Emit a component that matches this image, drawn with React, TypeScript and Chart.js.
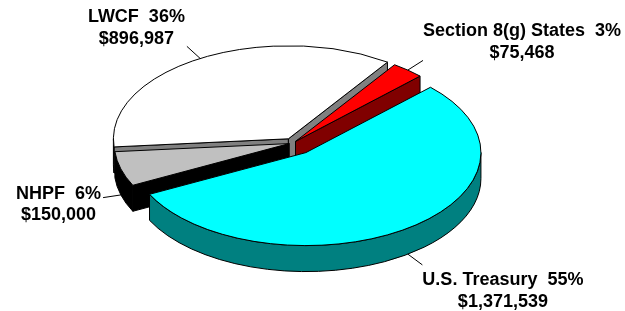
import React, { useEffect, useRef } from 'react';
import { Chart, registerables } from 'chart.js';

Chart.register(...registerables);

const categories = ['LWCF', 'Section 8(g) States', 'U.S. Treasury', 'NHPF'];
const amounts = [896987, 75468, 1371539, 150000];
const topColors = ['#FFFFFF', '#FF0000', '#00FFFF', '#C0C0C0'];
const sideColors = ['#808080', '#800000', '#008080', '#000000'];
const explodeOffsets = [7, 3, 17, 3];

const FONT = 'bold 18px "Liberation Sans", Arial, Helvetica, sans-serif';

const pie3d = {
  id: 'pie3d',
  beforeDatasetsDraw(chart: any, _args: any, opts: any) {
    const ctx: CanvasRenderingContext2D = chart.ctx;
    const meta = chart.getDatasetMeta(0);
    const arcs = meta.data;
    if (!arcs.length) return false;
    const { rx, ry, depth } = opts;
    const items = arcs.map((arc: any, i: number) => {
      const p = arc.getProps(['x', 'y', 'startAngle', 'endAngle', 'outerRadius'], true);
      const off = (arc.options.offset || 0) / p.outerRadius;
      const mid = (p.startAngle + p.endAngle) / 2;
      return {
        i,
        ax: p.x + rx * off * Math.cos(mid),
        ay: p.y + ry * off * Math.sin(mid),
        a0: p.startAngle,
        a1: p.endAngle,
        mid,
      };
    });
    chart.$pie3d = items;
    const sorted = [...items].sort((a: any, b: any) => Math.sin(a.mid) - Math.sin(b.mid));
    ctx.save();
    ctx.lineWidth = 1;
    ctx.strokeStyle = '#000';
    ctx.lineJoin = 'round';
    const pt = (it: any, a: number) => [it.ax + rx * Math.cos(a), it.ay + ry * Math.sin(a)];
    const face = (it: any, a: number, color: string) => {
      const [px, py] = pt(it, a);
      ctx.beginPath();
      ctx.moveTo(it.ax, it.ay);
      ctx.lineTo(px, py);
      ctx.lineTo(px, py + depth);
      ctx.lineTo(it.ax, it.ay + depth);
      ctx.closePath();
      ctx.fillStyle = color;
      ctx.fill();
      ctx.stroke();
    };
    const outer = (it: any, color: string) => {
      for (let k = -2; k <= 3; k++) {
        const lo = Math.max(it.a0, 2 * Math.PI * k);
        const hi = Math.min(it.a1, 2 * Math.PI * k + Math.PI);
        if (hi > lo) {
          ctx.beginPath();
          ctx.ellipse(it.ax, it.ay, rx, ry, 0, lo, hi, false);
          ctx.ellipse(it.ax, it.ay + depth, rx, ry, 0, hi, lo, true);
          ctx.closePath();
          ctx.fillStyle = color;
          ctx.fill();
          ctx.stroke();
        }
      }
    };
    for (const it of sorted) {
      const side = sideColors[it.i];
      if (Math.cos(it.a0) < 0) face(it, it.a0, side);
      if (Math.cos(it.a1) > 0) face(it, it.a1, side);
      outer(it, side);
      ctx.beginPath();
      ctx.moveTo(it.ax, it.ay);
      ctx.ellipse(it.ax, it.ay, rx, ry, 0, it.a0, it.a1, false);
      ctx.closePath();
      ctx.fillStyle = topColors[it.i];
      ctx.fill();
      ctx.stroke();
    }
    ctx.restore();
    return false;
  },
  afterDraw(chart: any, _args: any, opts: any) {
    const items = chart.$pie3d;
    if (!items) return;
    const ctx: CanvasRenderingContext2D = chart.ctx;
    const { rx, ry, depth } = opts;
    const data = chart.data.datasets[0].data as number[];
    const total = data.reduce((s, v) => s + v, 0);
    ctx.save();
    ctx.font = FONT;
    ctx.fillStyle = '#000';
    ctx.strokeStyle = '#000';
    ctx.lineWidth = 1;
    ctx.textAlign = 'center';
    ctx.textBaseline = 'middle';
    for (const it of items) {
      const vx = rx * Math.cos(it.mid);
      const vy = ry * Math.sin(it.mid);
      const len = Math.hypot(vx, vy);
      const dx = vx / len;
      const dy = vy / len;
      const sx = it.ax + vx;
      const sy = it.ay + vy + (Math.sin(it.mid) > 0 ? depth : 0);
      const ex = sx + dx * 18;
      const ey = sy + dy * 18;
      ctx.beginPath();
      ctx.moveTo(sx, sy);
      ctx.lineTo(ex, ey);
      ctx.stroke();
      const value = data[it.i];
      const pct = Math.round((value / total) * 100);
      const line1 = `${chart.data.labels[it.i]}  ${pct}%`;
      const line2 = '$' + value.toLocaleString('en-US');
      const w = Math.max(ctx.measureText(line1).width, ctx.measureText(line2).width);
      const cx = dx < 0 ? ex - 2 - w / 2 : ex + w / 2;
      let y1: number, y2: number;
      if (dy < -0.3) { y1 = ey - 29; y2 = ey - 7; }
      else if (dy > 0.3) { y1 = ey + 15; y2 = ey + 37; }
      else { y1 = ey - 4; y2 = ey + 17; }
      ctx.fillText(line1, cx, y1);
      ctx.fillText(line2, cx, y2);
    }
    ctx.restore();
  },
};

export default function App() {
  const ref = useRef<HTMLCanvasElement>(null);
  useEffect(() => {
    if (!ref.current) return;
    const chart = new Chart(ref.current, {
      type: 'pie',
      data: {
        labels: categories,
        datasets: [
          {
            data: amounts,
            backgroundColor: topColors,
            borderColor: '#000',
            borderWidth: 1,
            offset: explodeOffsets,
          },
        ],
      },
      options: {
        animation: false,
        responsive: true,
        maintainAspectRatio: false,
        devicePixelRatio: 1,
        rotation: 265,
        layout: { padding: { left: 0, right: 39, top: 0, bottom: 25 } },
        plugins: {
          legend: { display: false },
          tooltip: { enabled: false },
          pie3d: { rx: 175, ry: 93, depth: 26 },
        } as any,
        events: [],
      },
      plugins: [pie3d as any],
    });
    return () => chart.destroy();
  }, []);
  return (
    <div style={{ position: 'fixed', left: 0, top: 0, width: 625, height: 311, background: '#fff' }}>
      <canvas ref={ref} />
    </div>
  );
}
